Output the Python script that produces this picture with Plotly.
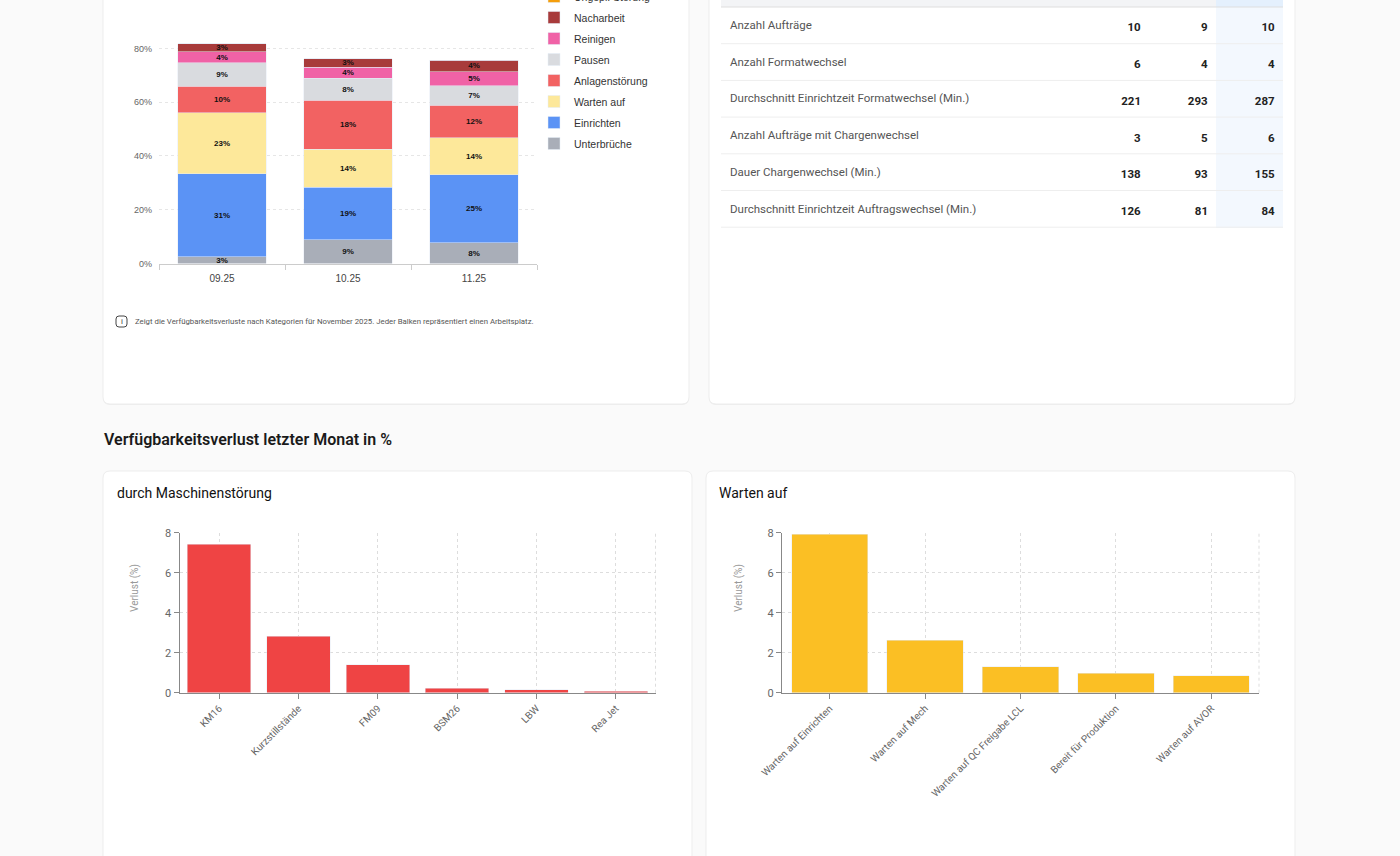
import plotly.graph_objects as go

W, H = 1400, 856

# --- Verfügbarkeitsverlust je Monat (gestapelt, %) ---
months = ['09.25', '10.25', '11.25']
unterbrueche = [2.6, 8.9, 7.7]
einrichten = [30.8, 19.4, 25.4]
warten_auf = [22.6, 14.3, 13.7]
anlagenstoerung = [9.9, 18.2, 12.0]
pausen = [8.7, 8.1, 7.3]
reinigen = [4.1, 4.1, 5.3]
nacharbeit = [3.1, 3.2, 4.2]
ungepl_stoerung = [0, 0, 0]
pct_ticks = [0, 20, 40, 60, 80]

# --- Kennzahlen-Tabelle ---
kpi_labels = ['Anzahl Aufträge', 'Anzahl Formatwechsel',
              'Durchschnitt Einrichtzeit Formatwechsel (Min.)',
              'Anzahl Aufträge mit Chargenwechsel', 'Dauer Chargenwechsel (Min.)',
              'Durchschnitt Einrichtzeit Auftragswechsel (Min.)']
kpi_sep = [10, 6, 221, 3, 138, 126]
kpi_okt = [9, 4, 293, 5, 93, 81]
kpi_nov = [10, 4, 287, 6, 155, 84]

# --- letzter Monat ---
maschinen = ['KM16', 'Kurzstillstände', 'FM09', 'BSM26', 'LBW', 'Rea Jet']
maschinen_verlust = [7.42, 2.83, 1.40, 0.23, 0.15, 0.07]
warten = ['Warten auf Einrichten', 'Warten auf Mech', 'Warten auf QC Freigabe LCL',
          'Bereit für Produktion', 'Warten auf AVOR']
warten_verlust = [7.92, 2.62, 1.30, 0.97, 0.85]


def px_x(v):
    return v / W


def px_y(v):
    return 1 - v / H


def rounded(x0, y0, x1, y1, r):
    X, Y = px_x, px_y
    return (f"M {X(x0+r)},{Y(y0)} L {X(x1-r)},{Y(y0)} Q {X(x1)},{Y(y0)} {X(x1)},{Y(y0+r)} "
            f"L {X(x1)},{Y(y1-r)} Q {X(x1)},{Y(y1)} {X(x1-r)},{Y(y1)} "
            f"L {X(x0+r)},{Y(y1)} Q {X(x0)},{Y(y1)} {X(x0)},{Y(y1-r)} "
            f"L {X(x0)},{Y(y0+r)} Q {X(x0)},{Y(y0)} {X(x0+r)},{Y(y0)} Z")


fig = go.Figure()

stack = [
    ('Unterbrüche', unterbrueche, '#a9aeb8'),
    ('Einrichten', einrichten, '#5b93f5'),
    ('Warten auf', warten_auf, '#fde89a'),
    ('Anlagenstörung', anlagenstoerung, '#f26262'),
    ('Pausen', pausen, '#d9dbdf'),
    ('Reinigen', reinigen, '#f062a6'),
    ('Nacharbeit', nacharbeit, '#a83b3b'),
    ('Ungepl. Störung', ungepl_stoerung, '#f59e0b'),
]
for i, (name, vals, col) in enumerate(stack):
    fig.add_trace(go.Bar(
        x=months, y=vals, name=name, marker_color=col, width=0.7,
        legendgroup=name, legendrank=100 - i,
        text=[f"{round(v)}%" if v else "" for v in vals],
        textposition='inside', insidetextanchor='middle', constraintext='none',
        textfont=dict(size=8, color='#111', family='Liberation Sans', weight='bold'),
        xaxis='x', yaxis='y', hoverinfo='skip'))

fig.add_trace(go.Bar(x=maschinen, y=maschinen_verlust, marker_color='#ef4444', width=0.8,
                     showlegend=False, xaxis='x2', yaxis='y2'))
fig.add_trace(go.Bar(x=warten, y=warten_verlust, marker_color='#fbbf24', width=0.8,
                     showlegend=False, xaxis='x3', yaxis='y3'))

clear = 'rgba(0,0,0,0)'
tab_top = 11.4
fig.add_trace(go.Table(
    domain=dict(x=[px_x(722), px_x(1283)], y=[px_y(tab_top + 226), px_y(tab_top)]),
    columnwidth=[360, 67, 67, 67],
    header=dict(values=['', '', '', ''], height=1, fill_color=clear,
                line=dict(color=clear, width=0), font=dict(size=1)),
    cells=dict(values=[kpi_labels,
                       [f"<b>{v}</b>" for v in kpi_sep],
                       [f"<b>{v}</b>" for v in kpi_okt],
                       [f"<b>{v}</b>" for v in kpi_nov]],
               height=36.7, align=['left', 'right', 'right', 'right'],
               fill_color=clear, line=dict(color=clear, width=0),
               font=dict(family='Roboto', size=[11.5, 11.5, 11.5, 11.5],
                         color=['#555555', '#222222', '#222222', '#222222']))))

small_axis = dict(showgrid=True, gridcolor='#dddddd', griddash='3px,3px', showline=True,
                  linecolor='#888888', ticks='outside', ticklen=5, tickcolor='#888888',
                  zeroline=False)

fig.update_layout(
    width=W, height=H, margin=dict(l=0, r=0, t=0, b=0, autoexpand=False),
    paper_bgcolor='#fafafa', plot_bgcolor='rgba(0,0,0,0)',
    font=dict(family='Roboto', color='#444'),
    barmode='stack', showlegend=True,
    legend=dict(x=px_x(534), xanchor='left', y=px_y(-18), yanchor='top',
                traceorder='grouped', tracegroupgap=2,
                font=dict(family='Liberation Sans', size=10.5, color='#333'),
                bgcolor='rgba(0,0,0,0)'),
    xaxis=dict(domain=[px_x(159), px_x(537)], anchor='y', type='category', range=[-0.5, 2.5],
               showgrid=False, showline=True, linecolor='#cccccc', ticks='outside',
               tickson='boundaries', ticklen=5, tickcolor='#cccccc', ticklabelstandoff=5,
               tickfont=dict(family='Liberation Sans', size=10, color='#444')),
    yaxis=dict(domain=[px_y(263.5), px_y(21.6)], anchor='x', range=[0, 90],
               tickvals=pct_ticks, ticktext=[f"{v}%" for v in pct_ticks], showgrid=True,
               gridcolor='#e6e6e6', griddash='3px,3px', zeroline=False, showline=False,
               ticklabelstandoff=6,
               tickfont=dict(family='Liberation Sans', size=9, color='#666')),
    xaxis2=dict(domain=[px_x(179.5), px_x(655.5)], anchor='y2', tickangle=-45,
                tickfont=dict(size=10, color='#666'), **small_axis),
    yaxis2=dict(domain=[px_y(692.7), px_y(532.7)], anchor='x2', range=[0, 8], dtick=2,
                tickfont=dict(size=11, color='#666'), **small_axis),
    xaxis3=dict(domain=[px_x(782), px_x(1259)], anchor='y3', tickangle=-45,
                tickfont=dict(size=10, color='#666'), **small_axis),
    yaxis3=dict(domain=[px_y(692.7), px_y(532.7)], anchor='x3', range=[0, 8], dtick=2,
                tickfont=dict(size=11, color='#666'), **small_axis),
)

# Karten
shapes = []
for x0, y0, x1, y1 in [(103, -10, 689, 404), (709, -10, 1295, 404),
                       (103, 471, 692, 870), (706, 471, 1295, 870)]:
    shapes.append(dict(type='path', path=rounded(x0, y0 + 1, x1, y1 + 1, 7), xref='paper',
                       yref='paper', fillcolor='rgba(0,0,0,0.05)', line_width=0, layer='below'))
    shapes.append(dict(type='path', path=rounded(x0, y0, x1, y1, 7), xref='paper', yref='paper',
                       fillcolor='#ffffff', line=dict(color='#ededed', width=1), layer='below'))
# Tabellenhintergrund und -linien
shapes.append(dict(type='rect', xref='paper', yref='paper', x0=px_x(721), x1=px_x(1216),
                   y0=px_y(7), y1=1, fillcolor='#f3f4f6', line_width=0, layer='below'))
shapes.append(dict(type='rect', xref='paper', yref='paper', x0=px_x(1216), x1=px_x(1283),
                   y0=px_y(7), y1=1, fillcolor='#e4f0fd', line_width=0, layer='below'))
shapes.append(dict(type='rect', xref='paper', yref='paper', x0=px_x(1216), x1=px_x(1283),
                   y0=px_y(228), y1=px_y(7), fillcolor='#f3f8fe', line_width=0, layer='below'))
shapes.append(dict(type='line', xref='paper', yref='paper', x0=px_x(721), x1=px_x(1283),
                   y0=px_y(7), y1=px_y(7), line=dict(color='#dedede', width=1), layer='below'))
for k in range(1, 7):
    yy = 7 + 36.7 * k
    shapes.append(dict(type='line', xref='paper', yref='paper', x0=px_x(721), x1=px_x(1283),
                       y0=px_y(yy), y1=px_y(yy), line=dict(color='#eeeeee', width=1),
                       layer='below'))
# rechter Gitterrand
for ax in ['2', '3']:
    shapes.append(dict(type='line', xref=f'x{ax} domain', yref=f'y{ax} domain', x0=1, x1=1,
                       y0=0, y1=1, line=dict(color='#dddddd', width=1, dash='3px,3px')))
# Info-Symbol
shapes.append(dict(type='path', path=rounded(116, 316, 127, 327, 3), xref='paper', yref='paper',
                   fillcolor='rgba(0,0,0,0)', line=dict(color='#444', width=1)))
fig.update_layout(shapes=shapes)

ann = [
    dict(text='Verfügbarkeitsverlust letzter Monat in %', x=px_x(102), y=px_y(440),
         font=dict(size=16, color='#1a1a1a', weight=600)),
    dict(text='durch Maschinenstörung', x=px_x(115), y=px_y(493),
         font=dict(size=14, color='#111')),
    dict(text='Warten auf', x=px_x(717), y=px_y(493),
         font=dict(size=14, color='#111')),
    dict(text='Zeigt die Verfügbarkeitsverluste nach Kategorien für November 2025. '
              'Jeder Balken repräsentiert einen Arbeitsplatz.',
         x=px_x(133), y=px_y(322), font=dict(size=7.8, color='#555')),
    dict(text='i', x=px_x(121.5), y=px_y(321.5), xanchor='center',
         font=dict(size=8, color='#444')),
    dict(text='Verlust (%)', x=px_x(135), y=px_y(588), textangle=-90, xanchor='center',
         font=dict(size=10, color='#999')),
    dict(text='Verlust (%)', x=px_x(739), y=px_y(588), textangle=-90, xanchor='center',
         font=dict(size=10, color='#999')),
]
for a in ann:
    a.setdefault('xanchor', 'left')
    a.update(xref='paper', yref='paper', yanchor='middle', showarrow=False)
fig.update_layout(annotations=ann)

fig.write_html("out.html", config={'displayModeBar': False},
               post_script="document.body.style.margin='0';")
